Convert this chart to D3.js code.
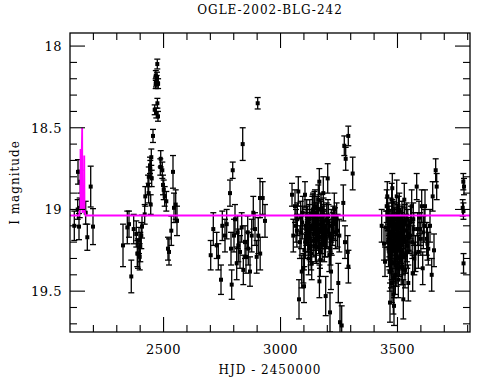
<!DOCTYPE html>
<html>
<head>
<meta charset="utf-8">
<script src="https://cdn.jsdelivr.net/npm/d3@7"></script>
<style>
  body { margin: 0; background: #fff; }
  text { font-family: "DejaVu Serif", serif; fill: #000; }
</style>
</head>
<body>
<script>
var width = 490,
    height = 380;

var margin = {top: 33, right: 20, bottom: 48, left: 70};

var titleText = "OGLE-2002-BLG-242";
var xLabel = "HJD - 2450000";
var yLabel = "I magnitude";

var xDomain = [2100, 3810];
var yDomain = [17.92, 19.75];
var xTicks = [2500, 3000, 3500];
var yTicks = [18, 18.5, 19, 19.5];

// observations: HJD - 2450000, I magnitude, error
var hjd = [
  2118.4, 2132.9, 2134.2, 2138.5, 2141.5, 2144.0, 2167.1, 2174.0, 2188.5, 2198.3,
  2326.6, 2345.0, 2352.2, 2362.0, 2372.3, 2383.4, 2387.7, 2390.7, 2395.0, 2398.0,
  2400.5, 2404.8, 2407.8, 2419.3, 2421.9, 2433.5, 2436.4, 2436.9, 2442.0, 2443.3,
  2445.0, 2447.6, 2449.3, 2454.8, 2462.1, 2466.4, 2466.9, 2467.7, 2468.9, 2470.6,
  2471.9, 2473.2, 2473.6, 2476.2, 2476.6, 2486.0, 2487.8, 2494.6, 2497.6, 2500.6,
  2504.8, 2511.7, 2518.9, 2523.2, 2533.0, 2540.3, 2544.6, 2551.9, 2557.4,
  2701.5, 2712.6, 2727.1, 2734.0, 2745.5, 2751.1, 2762.6, 2769.9, 2784.0, 2788.3,
  2791.3, 2795.6, 2801.1, 2805.4, 2812.6, 2816.9, 2819.5, 2826.8, 2834.0, 2838.3,
  2840.9, 2848.1, 2852.4, 2859.7, 2862.2, 2869.5, 2876.8, 2883.6, 2890.9, 2898.1,
  2902.4, 2905.0, 2912.3, 2913.0, 2923.8, 2933.6,
  3049.1, 3054.6, 3061.9, 3066.2, 3076.0, 3079.0, 3086.2, 3090.5, 3097.3, 3100.4,
  3104.6, 3108.9, 3116.2, 3123.0, 3129.0, 3133.3, 3140.1, 3147.4, 3151.7, 3158.9,
  3161.5, 3165.8, 3166.3, 3168.8, 3173.0, 3176.0, 3180.3, 3182.8, 3187.1, 3193.1,
  3197.4, 3201.7, 3208.5, 3211.5, 3215.8, 3223.0, 3229.9, 3240.0, 3247.0, 3251.3,
  3254.3, 3261.5, 3268.3, 3272.6, 3275.6, 3278.6, 3287.2, 3289.7, 3290.2, 3308.5,
  3070.0, 3083.0, 3093.0, 3102.0, 3112.0, 3118.0, 3126.0, 3131.0, 3136.0, 3143.0,
  3149.0, 3155.0, 3163.0, 3171.0, 3178.0, 3185.0, 3190.0, 3199.0, 3205.0, 3213.0,
  3120.0, 3138.0, 3145.0, 3157.0, 3170.0, 3184.0, 3195.0, 3219.0, 3233.0, 3244.0,
  3072.0, 3088.0, 3095.0, 3106.0, 3110.0, 3114.0, 3121.0, 3125.0, 3128.0, 3134.0,
  3139.0, 3142.0, 3146.0, 3150.0, 3153.0, 3156.0, 3160.0, 3164.0, 3167.0, 3174.0,
  3177.0, 3181.0, 3186.0, 3192.0, 3198.0, 3203.0, 3210.0, 3217.0, 3226.0, 3236.0,
  3432.5, 3442.4, 3446.6, 3450.9, 3453.9, 3456.4, 3468.0, 3472.3, 3475.3, 3477.8,
  3479.6, 3482.2, 3485.1, 3489.4, 3493.7, 3496.7, 3503.5, 3507.8, 3510.8, 3518.0,
  3524.9, 3529.1, 3532.1, 3539.4, 3541.9, 3546.2, 3553.5, 3560.7, 3565.0, 3567.6,
  3571.9, 3582.1, 3586.4, 3589.0, 3596.3, 3603.5, 3607.8, 3610.4, 3617.6, 3624.9,
  3631.7, 3639.0, 3646.3, 3650.5, 3656.1, 3663.3, 3667.6,
  3460.0, 3464.0, 3470.0, 3474.0, 3481.0, 3484.0, 3487.0, 3491.0, 3495.0, 3499.0,
  3501.0, 3505.0, 3509.0, 3513.0, 3516.0, 3521.0, 3527.0, 3535.0, 3544.0, 3550.0,
  3458.0, 3466.0, 3476.5, 3486.0, 3492.0, 3498.0, 3506.0, 3515.0, 3523.0, 3531.0,
  3459.0, 3461.5, 3463.0, 3465.0, 3467.0, 3469.0, 3471.0, 3473.0, 3475.0, 3478.5,
  3480.0, 3483.0, 3485.5, 3488.0, 3490.0, 3494.0, 3497.0, 3500.0, 3502.0, 3504.0,
  3508.0, 3511.0, 3514.0, 3517.0, 3519.0, 3522.0, 3526.0, 3529.5, 3533.0, 3537.0,
  3540.0, 3548.0, 3556.0, 3563.0, 3570.0, 3577.0, 3592.0, 3600.0, 3614.0, 3628.0,
  3778.8, 3781.4, 3781.9, 3782.4, 3784.4
];
var imag = [
  19.10, 19.00, 18.77, 19.105, 18.99, 18.83, 19.02, 19.17, 18.86, 19.105,
  19.22, 19.11, 19.09, 19.41, 19.12, 19.15, 19.27, 19.27, 19.19, 19.29,
  19.23, 19.16, 19.105, 19.03, 18.92, 18.85, 18.90, 18.80, 18.73, 18.75,
  18.97, 18.68, 18.81, 18.55, 18.39, 18.23, 18.18, 18.22, 18.41, 18.21,
  18.19, 18.11, 18.35, 18.43, 18.23, 18.74, 18.69, 18.76, 18.85, 18.88,
  18.92, 18.95, 19.24, 19.26, 19.13, 18.77, 18.99, 18.97, 19.07,
  19.28, 19.12, 19.22, 19.29, 19.43, 19.10, 19.16, 19.09, 18.90, 19.24,
  19.46, 18.76, 19.16, 19.06, 19.33, 19.14, 19.22, 19.26, 19.11, 18.60,
  19.37, 19.20, 19.29, 19.14, 19.24, 19.38, 19.16, 19.02, 19.12, 19.29,
  18.35, 19.16, 18.93, 19.27, 18.93, 19.07,
  18.91, 19.16, 18.98, 19.10, 18.89, 19.55, 19.05, 19.38, 19.36, 19.47,
  18.91, 19.10, 19.16, 19.06, 19.22, 19.33, 19.12, 18.98, 19.18, 19.06,
  18.94, 18.83, 19.44, 19.26, 19.00, 19.14, 19.08, 18.90, 19.22, 19.53,
  19.06, 18.81, 19.28, 19.63, 19.38, 19.12, 19.00, 19.06, 19.45, 19.16,
  19.69, 19.71, 18.96, 18.61, 19.20, 18.69, 19.26, 18.55, 19.35, 18.78,
  19.13, 19.20, 19.08, 19.25, 19.04, 19.18, 19.12, 19.27, 19.02, 19.15,
  19.22, 19.09, 19.17, 19.04, 19.21, 19.11, 19.19, 19.13, 19.07, 19.24,
  19.30, 19.01, 18.99, 19.10, 19.31, 19.03, 19.14, 19.18, 19.09, 19.13,
  19.06, 19.14, 19.02, 19.20, 19.12, 19.08, 19.16, 19.04, 19.24, 19.10,
  19.00, 19.19, 19.06, 19.13, 19.23, 19.02, 19.15, 19.09, 19.21, 19.05,
  19.17, 19.11, 19.07, 19.19, 19.13, 19.04, 19.16, 19.10, 19.08, 19.14,
  19.10, 19.21, 19.32, 19.11, 18.98, 18.92, 19.57, 19.37, 18.94, 18.87,
  19.16, 19.52, 19.59, 19.06, 19.30, 18.92, 19.43, 19.00, 19.22, 19.12,
  19.55, 18.94, 19.37, 19.06, 19.26, 19.45, 19.16, 18.98, 19.39, 19.06,
  19.30, 18.86, 19.12, 19.26, 19.12, 18.98, 19.36, 19.14, 18.98, 19.18,
  19.24, 19.10, 19.40, 18.92, 19.25, 18.76, 18.86,
  19.20, 19.08, 19.28, 19.14, 19.33, 19.05, 19.22, 19.40, 19.12, 19.18,
  19.30, 19.02, 19.25, 19.15, 19.35, 19.08, 19.20, 19.28, 19.10, 19.17,
  19.03, 19.26, 19.45, 19.10, 19.34, 19.19, 19.11, 19.22, 19.29, 19.07,
  19.12, 19.24, 19.06, 19.18, 19.38, 19.10, 19.27, 19.15, 19.32, 19.04,
  19.21, 19.13, 19.42, 19.09, 19.25, 19.16, 19.36, 19.07, 19.23, 19.14,
  19.30, 19.11, 19.19, 19.26, 19.05, 19.35, 19.17, 19.09, 19.28, 19.13,
  19.22, 19.15, 19.08, 19.20, 19.12, 19.27, 19.05, 19.18, 19.10, 19.21,
  18.99, 18.83, 19.01, 19.33, 18.86
];
var ierr = [
  0.09, 0.06, 0.075, 0.08, 0.06, 0.07, 0.07, 0.08, 0.125, 0.11,
  0.13, 0.10, 0.08, 0.10, 0.09, 0.08, 0.08, 0.09, 0.08, 0.08,
  0.09, 0.08, 0.07, 0.06, 0.06, 0.06, 0.06, 0.06, 0.05, 0.05,
  0.06, 0.05, 0.05, 0.04, 0.03, 0.03, 0.03, 0.03, 0.03, 0.03,
  0.03, 0.03, 0.03, 0.03, 0.03, 0.05, 0.05, 0.05, 0.06, 0.06,
  0.06, 0.06, 0.07, 0.08, 0.09, 0.10, 0.09, 0.09, 0.09,
  0.09, 0.10, 0.08, 0.08, 0.09, 0.09, 0.10, 0.09, 0.08, 0.10,
  0.09, 0.05, 0.10, 0.09, 0.10, 0.10, 0.10, 0.10, 0.09, 0.10,
  0.09, 0.10, 0.10, 0.10, 0.10, 0.09, 0.10, 0.10, 0.10, 0.10,
  0.035, 0.11, 0.12, 0.10, 0.10, 0.10,
  0.07, 0.10, 0.10, 0.10, 0.09, 0.12, 0.10, 0.10, 0.09, 0.10,
  0.08, 0.10, 0.10, 0.09, 0.10, 0.10, 0.10, 0.10, 0.10, 0.10,
  0.09, 0.08, 0.10, 0.10, 0.10, 0.10, 0.10, 0.10, 0.10, 0.12,
  0.10, 0.09, 0.10, 0.12, 0.11, 0.10, 0.10, 0.10, 0.12, 0.10,
  0.12, 0.12, 0.11, 0.06, 0.10, 0.07, 0.10, 0.06, 0.10, 0.10,
  0.10, 0.10, 0.10, 0.10, 0.10, 0.10, 0.10, 0.10, 0.10, 0.10,
  0.10, 0.10, 0.10, 0.10, 0.10, 0.10, 0.10, 0.10, 0.10, 0.10,
  0.10, 0.10, 0.10, 0.10, 0.10, 0.10, 0.10, 0.10, 0.10, 0.10,
  0.10, 0.10, 0.10, 0.10, 0.10, 0.10, 0.10, 0.10, 0.10, 0.10,
  0.10, 0.10, 0.10, 0.10, 0.10, 0.10, 0.10, 0.10, 0.10, 0.10,
  0.10, 0.10, 0.10, 0.10, 0.10, 0.10, 0.10, 0.10, 0.10, 0.10,
  0.10, 0.10, 0.09, 0.10, 0.10, 0.09, 0.12, 0.11, 0.10, 0.09,
  0.10, 0.12, 0.12, 0.10, 0.11, 0.10, 0.11, 0.10, 0.10, 0.10,
  0.12, 0.10, 0.11, 0.10, 0.10, 0.11, 0.10, 0.10, 0.11, 0.10,
  0.10, 0.08, 0.10, 0.10, 0.10, 0.10, 0.10, 0.10, 0.10, 0.10,
  0.10, 0.10, 0.10, 0.09, 0.10, 0.07, 0.08,
  0.11, 0.10, 0.11, 0.10, 0.11, 0.10, 0.10, 0.12, 0.10, 0.10,
  0.11, 0.10, 0.11, 0.10, 0.11, 0.10, 0.10, 0.11, 0.10, 0.10,
  0.10, 0.11, 0.12, 0.10, 0.11, 0.10, 0.10, 0.11, 0.11, 0.10,
  0.11, 0.11, 0.10, 0.11, 0.12, 0.10, 0.11, 0.10, 0.11, 0.10,
  0.11, 0.10, 0.12, 0.10, 0.11, 0.10, 0.11, 0.10, 0.11, 0.10,
  0.11, 0.10, 0.10, 0.11, 0.10, 0.11, 0.10, 0.10, 0.11, 0.10,
  0.10, 0.10, 0.10, 0.10, 0.10, 0.11, 0.10, 0.10, 0.10, 0.10,
  0.05, 0.05, 0.05, 0.06, 0.05
];

// model curve
var modelHjd = [2100, 2139, 2142, 2144.5, 2145, 2146, 2152, 2153, 2160, 2161, 2162, 2166, 3810];
var modelMag = [19.037, 19.037, 19.0, 19.0, 18.63, 19.0, 18.5, 19.02, 19.0, 18.67, 19.0, 19.037, 19.037];

var points = hjd.map(function(d, i) { return {t: d, m: imag[i], e: ierr[i]}; });
var model = modelHjd.map(function(d, i) { return {t: d, m: modelMag[i]}; });

var svg = d3.select("body").append("svg")
            .attr("width", width)
            .attr("height", height);

var x = d3.scaleLinear()
          .domain(xDomain)
          .range([margin.left, width - margin.right]);

var y = d3.scaleLinear()
          .domain(yDomain)
          .range([margin.top, height - margin.bottom]);

svg.append("clipPath").attr("id", "clip")
  .append("rect")
  .attr("x", margin.left).attr("y", margin.top)
  .attr("width", width - margin.left - margin.right)
  .attr("height", height - margin.top - margin.bottom);

var plot = svg.append("g").attr("clip-path", "url(#clip)");

// error bars
var bars = plot.selectAll("g.pt")
  .data(points)
  .enter()
  .append("g")
  .attr("class", "pt");

bars.append("line")
  .attr("x1", function(d) { return x(d.t); })
  .attr("x2", function(d) { return x(d.t); })
  .attr("y1", function(d) { return y(d.m - d.e); })
  .attr("y2", function(d) { return y(d.m + d.e); })
  .attr("stroke", "#000")
  .attr("stroke-width", 1.3);

bars.selectAll("line.cap")
  .data(function(d) { return [d.m - d.e, d.m + d.e].map(function(v) { return {t: d.t, v: v}; }); })
  .enter()
  .append("line")
  .attr("class", "cap")
  .attr("x1", function(d) { return x(d.t) - 3; })
  .attr("x2", function(d) { return x(d.t) + 3; })
  .attr("y1", function(d) { return y(d.v); })
  .attr("y2", function(d) { return y(d.v); })
  .attr("stroke", "#000")
  .attr("stroke-width", 1.3);

bars.append("rect")
  .attr("x", function(d) { return x(d.t) - 2; })
  .attr("y", function(d) { return y(d.m) - 2; })
  .attr("width", 4)
  .attr("height", 4)
  .attr("fill", "#000");

// model
var line = d3.line()
  .x(function(d) { return x(d.t); })
  .y(function(d) { return y(d.m); });

plot.append("path")
  .datum(model)
  .attr("d", line)
  .attr("fill", "none")
  .attr("stroke", "#ff00ff")
  .attr("stroke-width", 1.8);

// frame and ticks
var x0 = margin.left, x1 = width - margin.right,
    y0 = margin.top, y1 = height - margin.bottom;

svg.append("rect")
  .attr("x", x0).attr("y", y0)
  .attr("width", x1 - x0).attr("height", y1 - y0)
  .attr("fill", "none")
  .attr("stroke", "#000")
  .attr("stroke-width", 1.3);

var xMinor = d3.range(2200, 3811, 100);
var yMinor = d3.range(18, 19.75, 0.1);
var major = 15, minor = 7;
var tickG = svg.append("g").attr("stroke", "#000").attr("stroke-width", 1.1);

xMinor.forEach(function(t) {
  var len = (t % 500 === 0) ? major : minor;
  tickG.append("line").attr("x1", x(t)).attr("x2", x(t)).attr("y1", y1).attr("y2", y1 - len);
  tickG.append("line").attr("x1", x(t)).attr("x2", x(t)).attr("y1", y0).attr("y2", y0 + len);
});

yMinor.forEach(function(v) {
  var isMajor = Math.abs(v * 2 - Math.round(v * 2)) < 1e-6;
  var len = isMajor ? major : minor;
  tickG.append("line").attr("x1", x0).attr("x2", x0 + len).attr("y1", y(v)).attr("y2", y(v));
  tickG.append("line").attr("x1", x1).attr("x2", x1 - len).attr("y1", y(v)).attr("y2", y(v));
});

svg.selectAll("text.xt")
  .data(xTicks)
  .enter()
  .append("text")
  .attr("class", "xt")
  .attr("x", function(d) { return x(d); })
  .attr("y", y1 + 22)
  .attr("text-anchor", "middle")
  .style("font-size", "13px")
  .style("letter-spacing", "0.5px")
  .text(function(d) { return d; });

svg.selectAll("text.yt")
  .data(yTicks)
  .enter()
  .append("text")
  .attr("class", "yt")
  .attr("x", x0 - 8)
  .attr("y", function(d) { return y(d) + 5; })
  .attr("text-anchor", "end")
  .style("font-size", "13px")
  .style("letter-spacing", "0.5px")
  .text(function(d) { return d; });

svg.append("text")
  .attr("x", 270)
  .attr("y", 14)
  .attr("text-anchor", "middle")
  .style("font-size", "12px")
  .style("letter-spacing", "1px")
  .text(titleText);

svg.append("text")
  .attr("x", 270)
  .attr("y", 374)
  .attr("text-anchor", "middle")
  .style("font-size", "12px")
  .style("letter-spacing", "1px")
  .text(xLabel);

svg.append("text")
  .attr("transform", "translate(19," + ((y0 + y1) / 2) + ")rotate(-90)")
  .attr("text-anchor", "middle")
  .style("font-size", "12px")
  .style("letter-spacing", "1px")
  .text(yLabel);
</script>
</body>
</html>
